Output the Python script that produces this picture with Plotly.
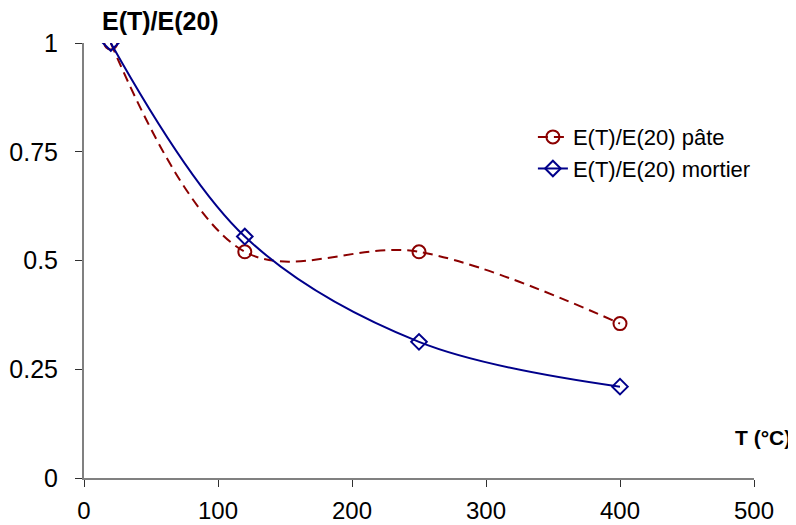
import plotly.graph_objects as go

temperature = [20, 120, 250, 400]
pate = [1.0, 0.52, 0.52, 0.355]
mortier = [1.0, 0.555, 0.313, 0.21]
x_ticks = [0, 100, 200, 300, 400, 500]
y_ticks = [0, 0.25, 0.5, 0.75, 1]
y_tick_text = ["0", "0.25", "0.5", "0.75", "1"]

FONT = "Liberation Sans, Arial, sans-serif"

fig = go.Figure()
fig.add_trace(go.Scatter(
    x=temperature, y=pate, name="E(T)/E(20) pâte",
    mode="lines+markers",
    line=dict(color="#8B0000", width=2, dash="10px,6px", shape="spline", smoothing=1),
    marker=dict(symbol="circle-open", size=13, color="#8B0000", line=dict(width=2)),
))
fig.add_trace(go.Scatter(
    x=temperature, y=mortier, name="E(T)/E(20) mortier",
    mode="lines+markers",
    line=dict(color="#00008B", width=2, shape="spline", smoothing=1),
    marker=dict(symbol="diamond-open", size=12, color="#00008B", line=dict(width=2)),
))

fig.update_layout(
    width=788, height=517,
    margin=dict(l=76, r=42, t=35, b=47, autoexpand=False),
    paper_bgcolor="white", plot_bgcolor="white",
    font=dict(family=FONT, color="black", size=24),
    showlegend=True,
    legend=dict(x=0.67, y=0.832, xanchor="left", yanchor="top",
                font=dict(size=22, family=FONT), bgcolor="rgba(0,0,0,0)",
                tracegroupgap=0),
    xaxis=dict(range=[0, 500], tickvals=x_ticks, showgrid=False, zeroline=False,
               showline=True, linecolor="#808080", linewidth=2,
               ticks="outside", ticklen=7, tickcolor="#303030", tickwidth=1,
               tickfont=dict(size=24), ticklabelstandoff=3,
               automargin=False, fixedrange=True),
    yaxis=dict(range=[0, 1], tickvals=y_ticks, ticktext=y_tick_text, showgrid=False,
               zeroline=False, showline=True, linecolor="#808080", linewidth=2,
               ticks="outside", ticklen=7, tickcolor="#303030", tickwidth=1,
               tickfont=dict(size=25), ticklabelstandoff=12,
               automargin=False, fixedrange=True),
    annotations=[
        dict(text="<b>E(T)/E(20)</b>", xref="paper", yref="paper",
             x=0.024, y=1.05, xanchor="left", yanchor="middle",
             showarrow=False, font=dict(size=25, family=FONT)),
        dict(text="<b>T (°C)</b>", xref="paper", yref="paper",
             x=0.969, y=0.094, xanchor="left", yanchor="middle",
             showarrow=False, font=dict(size=21, family=FONT)),
    ],
)

fig.write_html("out.html")
